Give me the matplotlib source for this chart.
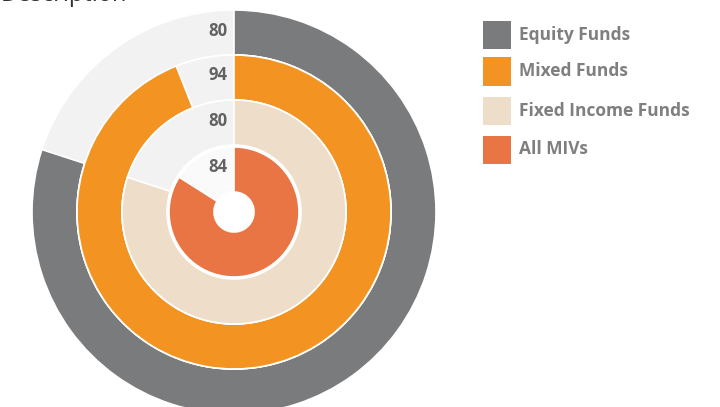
import numpy as np
import matplotlib.pyplot as plt
from matplotlib.patches import Rectangle

# ---------------------------------------------------
#  Data
# ---------------------------------------------------
series = ["Equity Funds", "Mixed Funds", "Fixed Income Funds", "All MIVs"]
values = [80, 94, 80, 84]
colors = ["#7a7b7d", "#f39321", "#eeddc9", "#e97444"]
track_colors = ["#f2f2f2", "#f2f2f2", "#f2f2f2", "#fafafa"]

# ---------------------------------------------------
#  Figure
# ---------------------------------------------------
W, H = 720, 407
fig = plt.figure(figsize=(W / 100, H / 100), dpi=100)
plt.rcParams['font.family'] = ['Open Sans', 'DejaVu Sans']

cx, cy, R = 234, 212, 203
ax = fig.add_axes([(cx - R) / W, (H - cy - R) / H, 2 * R / W, 2 * R / H],
                  projection='polar')
ax.set_theta_zero_location('N')
ax.set_theta_direction(-1)
ax.set_ylim(0, R)
ax.axis('off')

ring_w = 45
bottoms = [157, 112, 67, 20]

for val, col, tcol, b in zip(values, colors, track_colors, bottoms):
    ax.bar(np.pi, ring_w, width=2 * np.pi, bottom=b, color=tcol,
           edgecolor='white', linewidth=1.2)
    frac = val / 100 * 2 * np.pi
    ax.bar(frac / 2, ring_w, width=frac, bottom=b, color=col,
           edgecolor='white', linewidth=1.2)
    ax.annotate(str(val), xy=(0, b + ring_w / 2), xytext=(-6, 2),
                textcoords='offset pixels', ha='right', va='center',
                fontsize=12, fontweight='bold', color='#626262')

# legend
ys = [35, 71.5, 110.5, 149.5]
for name, col, y in zip(series, colors, ys):
    fig.patches.append(Rectangle((483 / W, 1 - (y + 14) / H), 28 / W, 28 / H,
                                 transform=fig.transFigure, facecolor=col,
                                 edgecolor='none'))
    fig.text(519 / W, 1 - y / H, name, ha='left', va='center',
             fontsize=12.5, fontweight='bold', color='#7f7f7f')

# title, cut off at the top like the source image
fig.text(127 / W, 1 - 1 / H, "Description", ha='right', va='baseline',
         fontsize=17, color='#333333')

fig.savefig("out.png", dpi=100)
